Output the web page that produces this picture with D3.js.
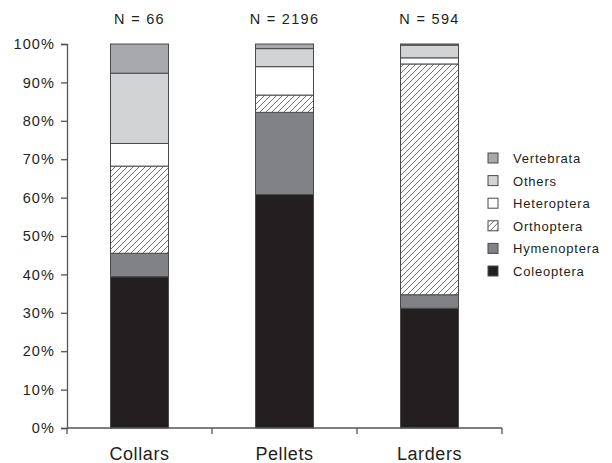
<!DOCTYPE html>
<html>
<head>
<meta charset="utf-8">
<script src="https://cdn.jsdelivr.net/npm/d3@7"></script>
<style>
  body { margin: 0; background: #fff; }
  text { font-family: "Liberation Sans", Arial, sans-serif; fill: #231f20; }
</style>
</head>
<body>
<div id="chart"></div>
<script>
let width = 612,
    height = 463;

const sources = ["Collars", "Pellets", "Larders"];
const sampleSizes = [66, 2196, 594];
const taxa = ["Coleoptera", "Hymenoptera", "Orthoptera", "Heteroptera", "Others", "Vertebrata"];

// percentages per source
const coleoptera  = [39.4, 60.8, 31.2];
const hymenoptera = [6.1, 21.4, 3.5];
const orthoptera  = [22.7, 4.5, 60.1];
const heteroptera = [5.9, 7.4, 1.6];
const others      = [18.3, 4.7, 3.3];
const vertebrata  = [7.6, 1.2, 0.3];

const yTicks = [0, 10, 20, 30, 40, 50, 60, 70, 80, 90, 100];

const series = [coleoptera, hymenoptera, orthoptera, heteroptera, others, vertebrata];
const fills = {
  Coleoptera: "#231f20",
  Hymenoptera: "#808285",
  Orthoptera: "url(#hatch)",
  Heteroptera: "#ffffff",
  Others: "#d1d3d4",
  Vertebrata: "#a7a9ac"
};

const rows = sources.map((s, i) => {
  let r = {source: s};
  taxa.forEach((t, j) => r[t] = series[j][i]);
  return r;
});

const margin = {left: 67, right: 110, top: 44, bottom: 35};

const svg = d3.select("#chart").append("svg")
  .attr("width", width)
  .attr("height", height);

const defs = svg.append("defs");
const pat = defs.append("pattern")
  .attr("id", "hatch")
  .attr("patternUnits", "userSpaceOnUse")
  .attr("width", 6)
  .attr("height", 6);
pat.append("rect").attr("width", 6).attr("height", 6).attr("fill", "#fff");
pat.append("path")
  .attr("d", "M-1,7 L7,-1 M-1,1 L1,-1 M5,7 L7,5")
  .attr("stroke", "#333")
  .attr("stroke-width", 0.7);

const x = d3.scaleBand()
  .domain(sources)
  .range([margin.left, 502])
  .paddingInner(0.6)
  .paddingOuter(0.3);

const y = d3.scaleLinear()
  .domain([0, 100])
  .range([428, margin.top]);

const stack = d3.stack().keys(taxa)(rows);

svg.selectAll("g.layer")
  .data(stack)
  .enter()
  .append("g")
  .attr("class", "layer")
  .attr("fill", d => fills[d.key])
  .selectAll("rect")
  .data(d => d)
  .enter()
  .append("rect")
  .attr("x", d => x(d.data.source))
  .attr("width", x.bandwidth())
  .attr("y", d => y(d[1]))
  .attr("height", d => y(d[0]) - y(d[1]))
  .attr("stroke", "#4a4a4a")
  .attr("stroke-width", 1);

// y axis
const yAxis = svg.append("g")
  .attr("transform", "translate(" + margin.left + ",0)")
  .call(d3.axisLeft(y).tickValues(yTicks).tickFormat(d => d + "%").tickSize(6).tickPadding(6));
yAxis.select(".domain").attr("stroke", "#555").attr("stroke-width", 1.3);
yAxis.selectAll(".tick line").attr("stroke", "#555").attr("stroke-width", 1.3);
yAxis.selectAll("text")
  .style("font-size", "14.5px")
  .style("letter-spacing", "1.1px")
  .style("font-family", "Liberation Sans, Arial, sans-serif")
  .attr("fill", "#231f20");

// x axis with ticks at band boundaries
const xAxisY = 428;
svg.append("line")
  .attr("x1", margin.left).attr("x2", 502)
  .attr("y1", xAxisY).attr("y2", xAxisY)
  .attr("stroke", "#555").attr("stroke-width", 1.3);
const bounds = [margin.left].concat(sources.map(s => x(s) - x.step() * x.paddingOuter() + x.step()));
svg.selectAll("line.xt")
  .data(bounds)
  .enter()
  .append("line")
  .attr("class", "xt")
  .attr("x1", d => d).attr("x2", d => d)
  .attr("y1", xAxisY).attr("y2", xAxisY + 6)
  .attr("stroke", "#555").attr("stroke-width", 1.3);

svg.selectAll("text.cat")
  .data(sources)
  .enter()
  .append("text")
  .attr("class", "cat")
  .attr("x", d => x(d) + x.bandwidth() / 2)
  .attr("y", 460)
  .attr("text-anchor", "middle")
  .style("font-size", "18px")
  .style("letter-spacing", "0.6px")
  .text(d => d);

svg.selectAll("text.n")
  .data(sources)
  .enter()
  .append("text")
  .attr("class", "n")
  .attr("x", (d, i) => x(d) + x.bandwidth() / 2)
  .attr("y", 24)
  .attr("text-anchor", "middle")
  .style("font-size", "14.5px")
  .style("letter-spacing", "1.3px")
  .text((d, i) => "N = " + sampleSizes[i]);

// legend, top to bottom reversed order of stack
const legendTaxa = taxa.slice().reverse();
const legend = svg.append("g").attr("transform", "translate(488,153)");
const items = legend.selectAll("g")
  .data(legendTaxa)
  .enter()
  .append("g")
  .attr("transform", (d, i) => "translate(0," + (i * 22.6) + ")");
items.append("rect")
  .attr("width", 10)
  .attr("height", 10)
  .attr("fill", d => fills[d])
  .attr("stroke", "#4a4a4a")
  .attr("stroke-width", 1);
items.append("text")
  .attr("x", 25)
  .attr("y", 10)
  .style("font-size", "13px")
  .style("letter-spacing", "0.8px")
  .attr("fill", "#333")
  .text(d => d);
</script>
</body>
</html>
